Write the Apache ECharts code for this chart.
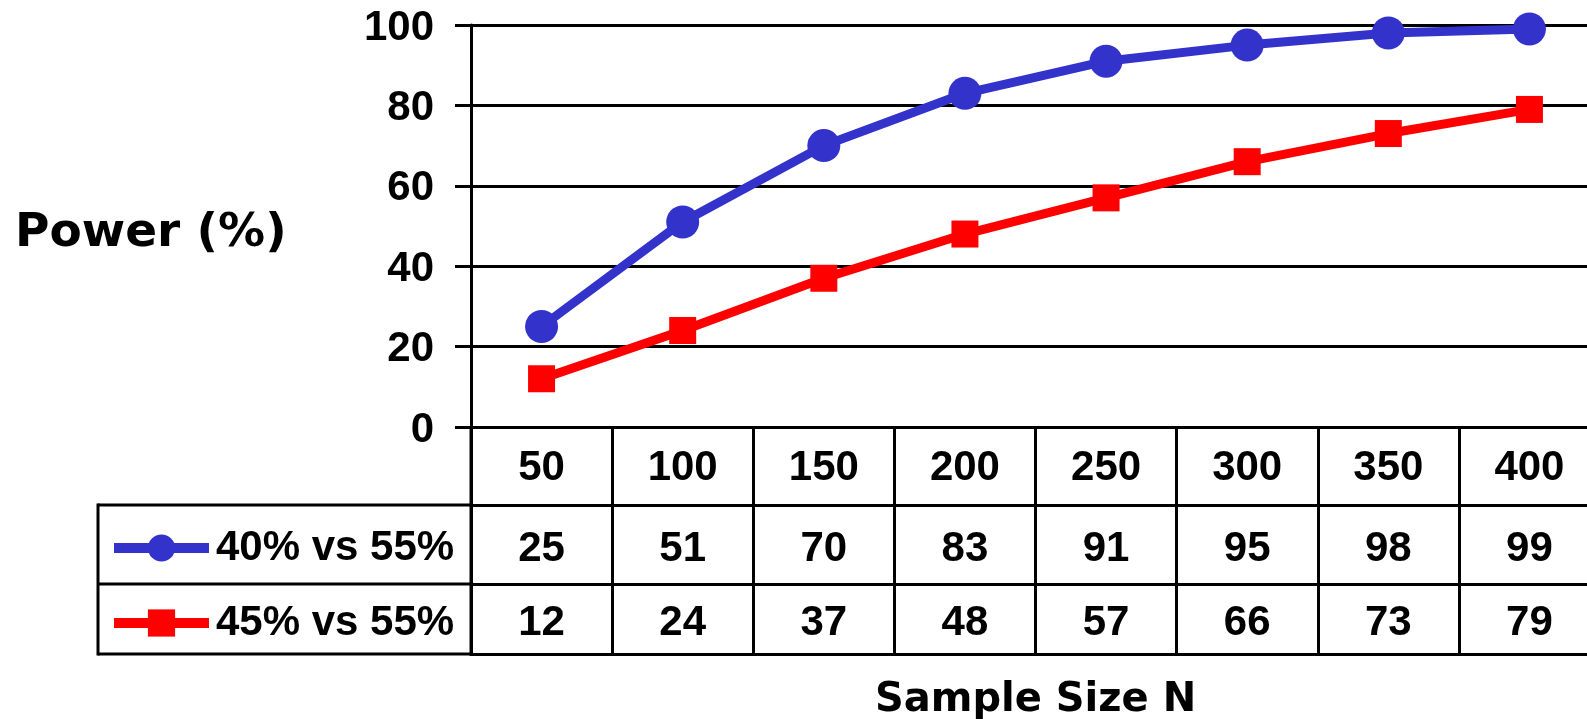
<!DOCTYPE html>
<html>
<head>
<meta charset="utf-8">
<script src="https://cdn.jsdelivr.net/npm/echarts@6/dist/echarts.min.js"></script>
<style>
html,body{margin:0;padding:0;background:#fff;}
#chart{width:1587px;height:719px;}
</style>
</head>
<body>
<div id="chart"></div>
<script>
// ---- data ----
const categories = ['50','100','150','200','250','300','350','400'];
const seriesNames = ['40% vs 55%','45% vs 55%'];
const power40vs55 = [25, 51, 70, 83, 91, 95, 98, 99];
const power45vs55 = [12, 24, 37, 48, 57, 66, 73, 79];
const yTicks = {min: 0, max: 100, interval: 20};
const yTitle = 'Power (%)';
const xTitle = 'Sample Size N';

const FONT = '"Liberation Sans", Arial, sans-serif';
const TFONT = '"DejaVu Sans", "Liberation Sans", sans-serif';
const BLUE = '#3333CC', RED = '#FF0000';

const chart = echarts.init(document.getElementById('chart'), null, {renderer: 'canvas'});

const L = 471, T = 25, W = 1129, H = 402;
const rowY = [427, 505, 584, 654];

function tableAxis(offset, tickLen, labels, margin, extra) {
  return Object.assign({
    type: 'category', gridIndex: 0, position: 'bottom', offset: offset,
    data: categories, boundaryGap: true,
    axisLine: {show: true, onZero: false, lineStyle: {color: '#000', width: 3}},
    axisTick: {show: tickLen > 0, alignWithLabel: false, interval: 0, length: tickLen, inside: false,
               lineStyle: {color: '#000', width: 3}},
    axisLabel: {show: !!labels, interval: 0, margin: margin, color: '#000', fontSize: 42, fontWeight: 'bold',
                fontFamily: FONT, formatter: labels ? (v, i) => String(labels[i]) : undefined},
    splitLine: {show: false}
  }, extra || {});
}

function legendAt(name, top) {
  return {data: [name], left: 109, top: top, orient: 'vertical', padding: 0,
    itemWidth: 95, itemHeight: 34, itemGap: 0,
    lineStyle: {width: 10},
    textStyle: {color: '#000', fontSize: 42, fontWeight: 'bold', fontFamily: FONT, padding: [0,0,0,2]}};
}

const option = {
  backgroundColor: '#fff',
  animation: false,
  title: {text: yTitle, left: 15, top: 210, padding: 0,
          textStyle: {color: '#000', fontSize: 47, fontWeight: 'bold', fontFamily: TFONT}},
  grid: {left: L, top: T, width: W, height: H, containLabel: false, outerBoundsMode: 'none'},
  legend: [legendAt(seriesNames[0], 527), legendAt(seriesNames[1], 602)],
  xAxis: [
    tableAxis(0, rowY[1]-rowY[0], categories, 20),
    tableAxis(rowY[1]-rowY[0], rowY[2]-rowY[1], power40vs55, 23),
    tableAxis(rowY[2]-rowY[0], rowY[3]-rowY[2], power45vs55, 18),
    tableAxis(rowY[3]-rowY[0], 0, null, 0, {
      name: xTitle, nameLocation: 'middle', nameGap: 27,
      nameTextStyle: {color: '#000', fontSize: 40, fontWeight: 'bold', fontFamily: TFONT}
    })
  ],
  yAxis: {
    type: 'value', min: yTicks.min, max: yTicks.max, interval: yTicks.interval,
    axisLine: {show: true, lineStyle: {color: '#000', width: 3}},
    axisTick: {show: true, length: 16, inside: false, lineStyle: {color: '#000', width: 3}},
    splitLine: {show: true, lineStyle: {color: '#000', width: 3}},
    axisLabel: {margin: 37, color: '#000', fontSize: 42, fontWeight: 'bold', fontFamily: FONT,
                verticalAlign: 'top', lineHeight: 6}
  },
  series: [
    {name: seriesNames[1], type: 'line', xAxisIndex: 0, data: power45vs55,
     symbol: 'rect', symbolSize: 27, color: RED,
     lineStyle: {color: RED, width: 9}, itemStyle: {color: RED}},
    {name: seriesNames[0], type: 'line', xAxisIndex: 0, data: power40vs55,
     symbol: 'circle', symbolSize: 33, color: BLUE,
     lineStyle: {color: BLUE, width: 9}, itemStyle: {color: BLUE}}
  ],
  graphic: [
    {type: 'group', silent: true, children: [
      {type: 'line', shape: {x1: 98, y1: rowY[1], x2: L, y2: rowY[1]}, style: {stroke: '#000', lineWidth: 3}},
      {type: 'line', shape: {x1: 98, y1: rowY[2], x2: L, y2: rowY[2]}, style: {stroke: '#000', lineWidth: 3}},
      {type: 'line', shape: {x1: 98, y1: rowY[3], x2: L, y2: rowY[3]}, style: {stroke: '#000', lineWidth: 3}},
      {type: 'line', shape: {x1: 98, y1: rowY[1]-1.5, x2: 98, y2: rowY[3]+1.5}, style: {stroke: '#000', lineWidth: 3}},
      {type: 'line', shape: {x1: L, y1: rowY[0], x2: L, y2: rowY[3]+1.5}, style: {stroke: '#000', lineWidth: 3}}
    ]}
  ]
};
chart.setOption(option);
</script>
</body>
</html>
